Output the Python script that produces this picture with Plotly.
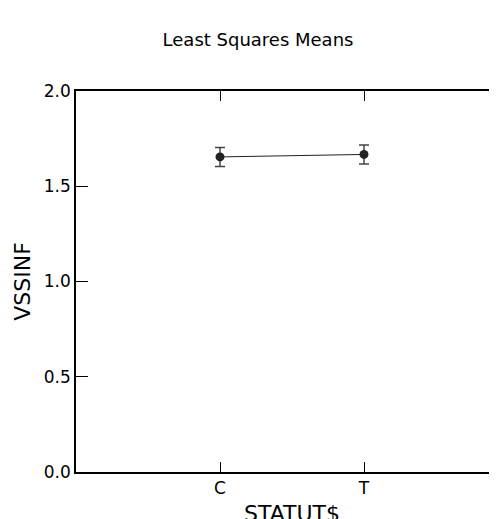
import plotly.graph_objects as go

categories = ["C", "T"]
cat_pos = [1, 2]
means = [1.654, 1.667]
errors = [0.050, 0.050]
y_ticks = [0.0, 0.5, 1.0, 1.5, 2.0]
y_tick_labels = ["0.0", "0.5", "1.0", "1.5", "2.0"]

FONT = "DejaVu Sans"
# page body adds an 8px offset, compensated in margins/positions
OFF = 8

fig = go.Figure()
fig.add_trace(go.Scatter(
    x=cat_pos, y=means, mode="lines+markers",
    line=dict(color="#222222", width=1),
    marker=dict(color="#222222", size=9),
    error_y=dict(type="data", array=errors, visible=True,
                 color="#444444", thickness=1.5, width=5),
    showlegend=False,
))
fig.add_trace(go.Scatter(x=[None], y=[None], yaxis="y2", showlegend=False))

fig.update_layout(
    width=497, height=519,
    margin=dict(l=76 - OFF, r=0, t=91 - OFF, b=47 + OFF, autoexpand=False),
    paper_bgcolor="white", plot_bgcolor="white",
    font=dict(family=FONT, color="black"),
    title=dict(text="Least Squares Means", x=(258 - OFF)/497, xref="container",
               xanchor="center", y=1 - (40 - OFF)/519, yref="container", yanchor="middle",
               font=dict(size=18, family=FONT, color="black")),
    xaxis=dict(range=[0, (497 - 76 + OFF)/144], tickvals=cat_pos, ticktext=categories,
               ticks="inside", ticklen=10, tickcolor="black", tickwidth=1,
               showline=True, linecolor="black", linewidth=1.5, mirror="ticks",
               showgrid=False, zeroline=False, automargin=False,
               tickfont=dict(size=17, family=FONT, color="black")),
    yaxis=dict(range=[0, 2], tickvals=y_ticks, ticktext=y_tick_labels,
               ticks="inside", ticklen=12, tickcolor="black", tickwidth=1,
               showline=True, linecolor="black", linewidth=1.5,
               showgrid=False, zeroline=False, automargin=False,
               ticklabelstandoff=0,
               title=dict(text="VSSINF", font=dict(size=22, family=FONT, color="black"), standoff=7),
               tickfont=dict(size=17, family=FONT, color="black")),
    yaxis2=dict(range=[0, 2], overlaying="y", side="right", anchor="x",
                tickvals=y_ticks[1:-1], ticks="inside", ticklen=11,
                tickcolor="black", showticklabels=False, showline=False,
                showgrid=False, zeroline=False, automargin=False),
)
fig.add_annotation(x=1.5, xref="x", y=-0.072, yref="paper", yanchor="top",
                   text="STATUT$", showarrow=False,
                   font=dict(size=22, family=FONT, color="black"))
fig.write_html("out.html")
